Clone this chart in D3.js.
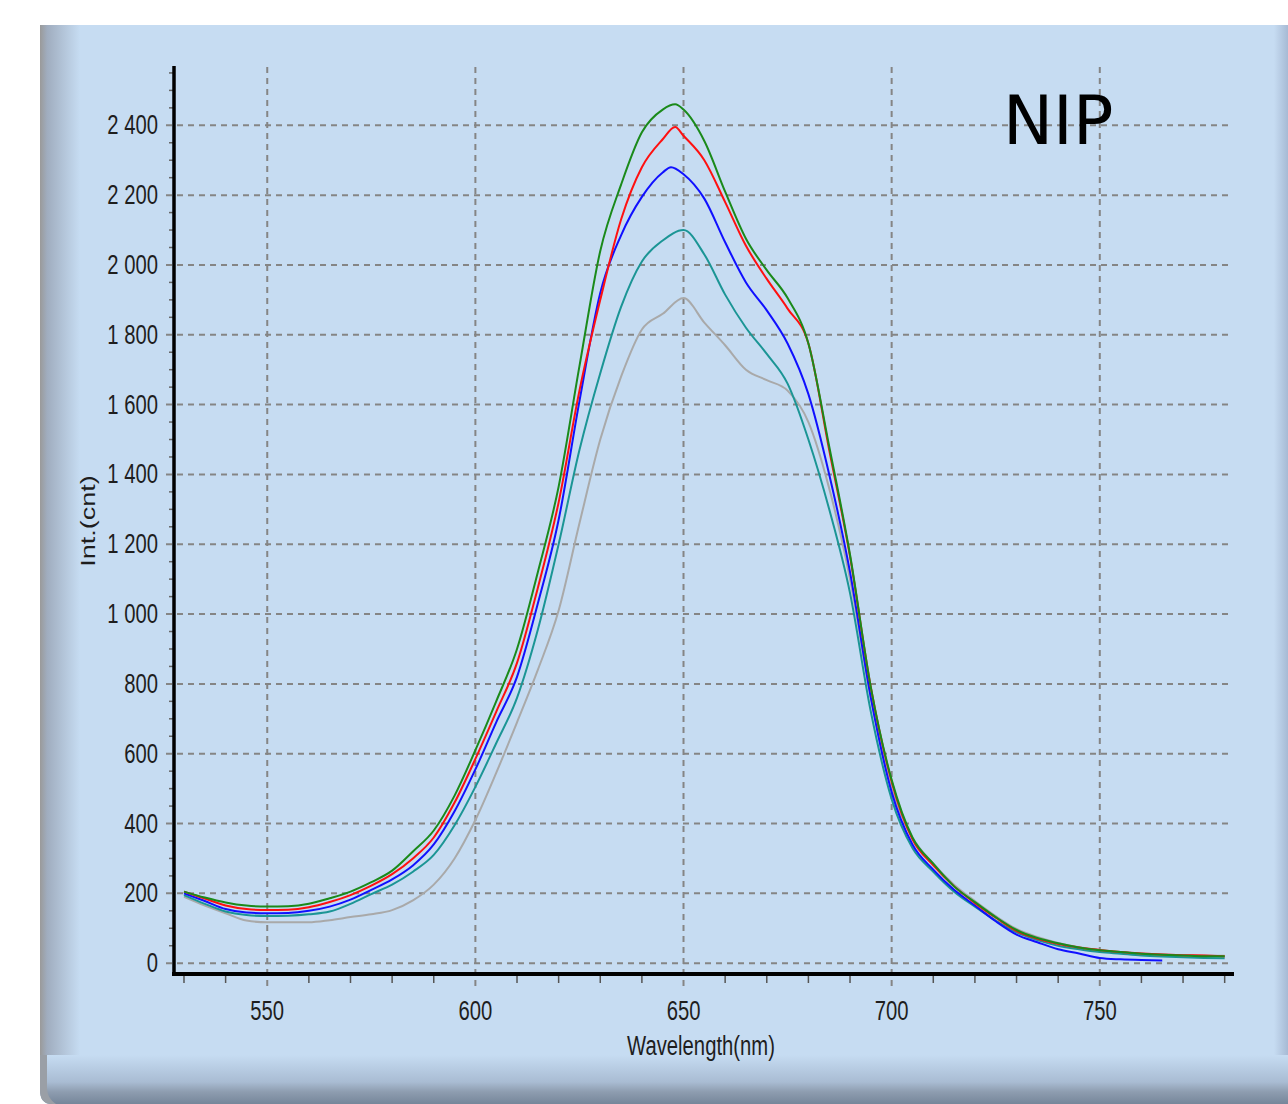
<!DOCTYPE html>
<html><head><meta charset="utf-8">
<script src="https://cdn.jsdelivr.net/npm/d3@7"></script>
<style>html,body{margin:0;padding:0;background:#fff;}svg{display:block;}</style>
</head><body>
<svg id="chart" width="1288" height="1104"></svg>
<script>
// ---- data ----
const wavelengths = [530,535,540,545,550,555,560,565,570,575,580,585,590,595,600,605,610,615,620,625,630,635,640,645,650,655,660,665,670,675,680,685,690,695,700,705,710,715,720,725,730,735,740,745,750,755,760,765,770,775,780];
const greenVals = [205,188,174,165,162,163,170,186,205,232,265,320,380,480,610,750,900,1120,1365,1710,2040,2230,2380,2445,2445,2355,2210,2075,1985,1905,1775,1480,1170,790,525,360,285,220,175,132,95,72,57,45,37,32,27,24,22,20,20];
const redVals   = [205,185,165,155,152,153,160,175,195,222,255,300,360,460,585,720,860,1075,1320,1640,1900,2130,2280,2360,2370,2300,2180,2055,1960,1875,1775,1470,1165,790,520,355,280,220,172,130,92,70,55,45,38,32,28,25,23,22,20];
const blueVals  = [200,178,155,145,143,144,150,162,182,210,240,280,340,435,555,690,820,1030,1270,1610,1920,2085,2195,2265,2260,2190,2065,1950,1870,1775,1630,1400,1120,760,490,340,268,210,165,120,82,60,40,28,15,11,9,8];
const tealVals  = [195,170,148,138,135,136,140,148,170,198,225,262,310,395,505,630,760,955,1200,1470,1690,1880,2010,2070,2100,2030,1915,1820,1745,1660,1500,1300,1060,720,470,330,262,205,162,122,88,66,50,40,32,27,22,19,17,15,14];
const grayVals  = [190,165,143,122,117,117,117,123,132,140,152,180,225,300,410,545,690,840,1010,1260,1500,1680,1815,1860,1905,1835,1770,1700,1670,1640,1550,1360,1100,760,500,360,285,225,178,135,98,75,58,46,38,32,28,25,23,22,21];
// peak points (gray, teal, blue, red, green)
const peakWl   = [650,650,647,648,648];
const peakVals = [1905,2100,2280,2395,2460];
const seriesNames = ["gray","teal","blue","red","green"];
const seriesColors = ["#a9a9a9","#1b9595","#1010ff","#ff1010","#1a8a1a"];
const xTicks = [550,600,650,700,750];
const yTicks = [0,200,400,600,800,1000,1200,1400,1600,1800,2000,2200,2400];
const xTitle = "Wavelength(nm)";
const yTitle = "Int.(cnt)";
const badge = "NIP";

// ---- build ----
const svg = d3.select("#chart");
const defs = svg.append("defs");
const gl = defs.append("linearGradient").attr("id","gLeft").attr("x1",0).attr("x2",1).attr("y1",0).attr("y2",0);
gl.append("stop").attr("offset",0).attr("stop-color","#9a9a9a");
gl.append("stop").attr("offset",0.18).attr("stop-color","#a0adbf");
gl.append("stop").attr("offset",1).attr("stop-color","#c6dcf2");
const gb = defs.append("linearGradient").attr("id","gBot").attr("x1",0).attr("x2",0).attr("y1",0).attr("y2",1);
gb.append("stop").attr("offset",0).attr("stop-color","#c6dcf2");
gb.append("stop").attr("offset",0.55).attr("stop-color","#a9bcd3");
gb.append("stop").attr("offset",0.75).attr("stop-color","#8e9db0");
gb.append("stop").attr("offset",1).attr("stop-color","#76869a");
const gr = defs.append("linearGradient").attr("id","gRight").attr("x1",0).attr("x2",1).attr("y1",0).attr("y2",0);
gr.append("stop").attr("offset",0).attr("stop-color","#c6dcf2");
gr.append("stop").attr("offset",1).attr("stop-color","#a7bad4");

// panel
svg.append("path").attr("d","M40,25 L1288,25 L1288,1104 L52,1104 Q40,1104 40,1090 Z").attr("fill","#c6dcf2");
svg.append("path").attr("d","M40,25 L80,25 L80,1058 L40,1058 Z").attr("fill","url(#gLeft)");
svg.append("rect").attr("x",1274).attr("y",25).attr("width",14).attr("height",1040).attr("fill","url(#gRight)");
svg.append("path").attr("d","M40,1055 L1288,1055 L1288,1104 L52,1104 Q40,1104 40,1090 Z").attr("fill","url(#gBot)");
svg.append("path").attr("d","M40,1055 L47,1055 L47,1088 Q47,1098 56,1104 L52,1104 Q40,1104 40,1090 Z").attr("fill","#9a9fa6");

const x = d3.scaleLinear().domain([527.6,782]).range([174,1233]);
const y = d3.scaleLinear().domain([-31,2567]).range([974,67]);

// grid
const grid = svg.append("g").attr("stroke","#858585").attr("stroke-width",2).attr("stroke-dasharray","6,5");
grid.selectAll("line.h").data(yTicks).join("line").attr("class","h")
  .attr("x1",166).attr("x2",1233).attr("y1",d=>y(d)).attr("y2",d=>y(d));
grid.selectAll("line.v").data(xTicks).join("line").attr("class","v")
  .attr("x1",d=>x(d)).attr("x2",d=>x(d)).attr("y1",67).attr("y2",988);

// minor ticks
const xMinor = d3.range(530,781,10).filter(v=>v%50!==0);
svg.append("g").selectAll("line").data(xMinor).join("line")
  .attr("x1",d=>x(d)).attr("x2",d=>x(d)).attr("y1",975).attr("y2",983)
  .attr("stroke","#555").attr("stroke-width",1.5);
const yMinor = d3.range(0,2551,50).filter(v=>v%200!==0);
svg.append("g").selectAll("line").data(yMinor).join("line")
  .attr("x1",169).attr("x2",174).attr("y1",d=>y(d)).attr("y2",d=>y(d))
  .attr("stroke","#666").attr("stroke-width",1.5);

// series
const allVals = [grayVals, tealVals, blueVals, redVals, greenVals];
const line = d3.line().x(d=>x(d[0])).y(d=>y(d[1])).curve(d3.curveMonotoneX);
seriesNames.forEach((name,i)=>{
  let pts = allVals[i].map((v,j)=>[wavelengths[j],v]).filter(p=>p[0]!==peakWl[i]);
  pts.push([peakWl[i],peakVals[i]]);
  pts.sort((a,b)=>a[0]-b[0]);
  svg.append("path").datum(pts).attr("d",line).attr("fill","none")
    .attr("stroke",seriesColors[i]).attr("stroke-width",2).attr("stroke-linejoin","round");
});

// axes lines
svg.append("line").attr("x1",174).attr("x2",174).attr("y1",66).attr("y2",976).attr("stroke","#000").attr("stroke-width",3.5);
svg.append("line").attr("x1",172).attr("x2",1234).attr("y1",974).attr("y2",974).attr("stroke","#000").attr("stroke-width",4);

// tick labels (horizontally condensed, like the squeezed original)
const fontFam = "'Liberation Sans', Arial, sans-serif";
const fmt = v => { const s = String(v); return s.length>3 ? s.slice(0,s.length-3)+" "+s.slice(-3) : s; };
svg.append("g").selectAll("text").data(yTicks).join("text")
  .attr("transform",d=>`translate(158,${y(d)+9}) scale(0.75,1)`)
  .attr("text-anchor","end").attr("font-family",fontFam).attr("font-size",27).attr("fill","#1e1e1e")
  .style("white-space","pre").attr("xml:space","preserve")
  .text(d=>fmt(d));
svg.append("g").selectAll("text").data(xTicks).join("text")
  .attr("transform",d=>`translate(${x(d)},1020) scale(0.75,1)`)
  .attr("text-anchor","middle").attr("font-family",fontFam).attr("font-size",27).attr("fill","#1e1e1e")
  .text(d=>d);
svg.append("text").attr("transform","translate(701,1055) scale(0.75,1)")
  .attr("text-anchor","middle").attr("font-family",fontFam).attr("font-size",27).attr("fill","#1e1e1e").text(xTitle);
svg.append("text").attr("transform","translate(95,521) scale(0.75,1) rotate(-90)")
  .attr("text-anchor","middle").attr("font-family",fontFam).attr("font-size",27).attr("fill","#1e1e1e").text(yTitle);

svg.append("text").attr("x",1003).attr("y",144).attr("font-family","'DejaVu Sans', Verdana, sans-serif")
  .attr("font-size",67).attr("fill","#000").text(badge);
</script>
</body></html>
